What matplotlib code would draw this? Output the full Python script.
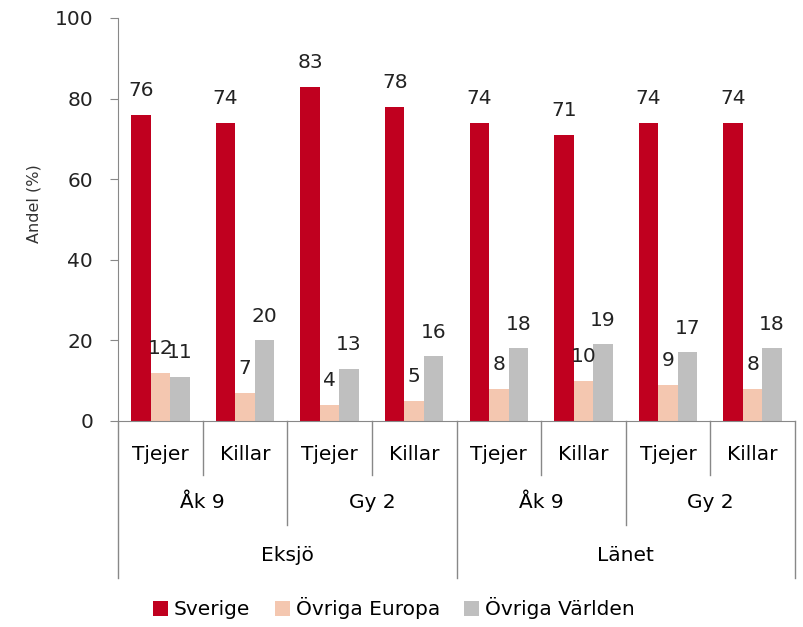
import matplotlib.pyplot as plt
import matplotlib.transforms as mtransforms
import numpy as np

# Data
kon = ["Tjejer", "Killar", "Tjejer", "Killar", "Tjejer", "Killar", "Tjejer", "Killar"]
arskurs = ["Åk 9", "Gy 2", "Åk 9", "Gy 2"]
omrade = ["Eksjö", "Länet"]
sverige = [76, 74, 83, 78, 74, 71, 74, 74]
europa = [12, 7, 4, 5, 8, 10, 9, 8]
varlden = [11, 20, 13, 16, 18, 19, 17, 18]

series = [("Sverige", sverige, "#C0001F"),
          ("Övriga Europa", europa, "#F4C7B0"),
          ("Övriga Världen", varlden, "#BFBFBF")]

plt.rcParams['font.family'] = ['DejaVu Sans']
fs = 14.5

fig = plt.figure(figsize=(8.04, 6.27), dpi=100)
ax = fig.add_axes([0.1468, 0.3286, 0.842, 0.6427])

x = np.arange(len(kon))
w = 0.23
for i, (name, vals, col) in enumerate(series):
    pos = x + (i - 1) * w
    bars = ax.bar(pos, vals, w, color=col, label=name)
    for b, v in zip(bars, vals):
        ax.annotate(str(v), (b.get_x() + b.get_width() / 2, v),
                    xytext=(0, 10.5), textcoords="offset points",
                    ha="center", va="bottom", fontsize=fs, color="#222222")

ax.set_xlim(-0.5, len(kon) - 0.5)
ax.set_ylim(0, 100)
ax.set_yticks(range(0, 101, 20))
ax.set_yticklabels([str(v) for v in range(0, 101, 20)], fontsize=fs)
ax.set_xticks([])
ax.set_ylabel("Andel (%)", fontsize=11.5, color="#333333")
ax.yaxis.set_label_coords(-0.113, 0.54)
ax.tick_params(axis="y", direction="out", length=6, color="#888888", labelcolor="#222222", pad=12)
for s in ["top", "right"]:
    ax.spines[s].set_visible(False)
ax.spines["left"].set_color("#888888")
ax.spines["bottom"].set_color("#888888")

# Multi-level category axis
trans = mtransforms.blended_transform_factory(ax.transData, ax.transAxes)
lc = "#888888"
for b in np.arange(-0.5, len(kon), 1.0):
    k = int(b + 0.5)
    if k % 4 == 0:
        depth = -0.39
    elif k % 2 == 0:
        depth = -0.258
    else:
        depth = -0.134
    ax.plot([b, b], [0, depth], transform=trans, color=lc, lw=1, clip_on=False)

for i, lab in enumerate(kon):
    ax.text(i, -0.084, lab, transform=trans, ha="center", va="center", fontsize=fs)
for i, lab in enumerate(arskurs):
    ax.text(2 * i + 0.5, -0.203, lab, transform=trans, ha="center", va="center", fontsize=fs)
for i, lab in enumerate(omrade):
    ax.text(4 * i + 1.5, -0.335, lab, transform=trans, ha="center", va="center", fontsize=fs)

fig.legend(loc="center", bbox_to_anchor=(0.49, 0.03), ncol=3, frameon=False,
           handlelength=0.75, handleheight=0.75, handletextpad=0.3,
           columnspacing=1.2, fontsize=fs)

plt.savefig("out.png", dpi=100)
